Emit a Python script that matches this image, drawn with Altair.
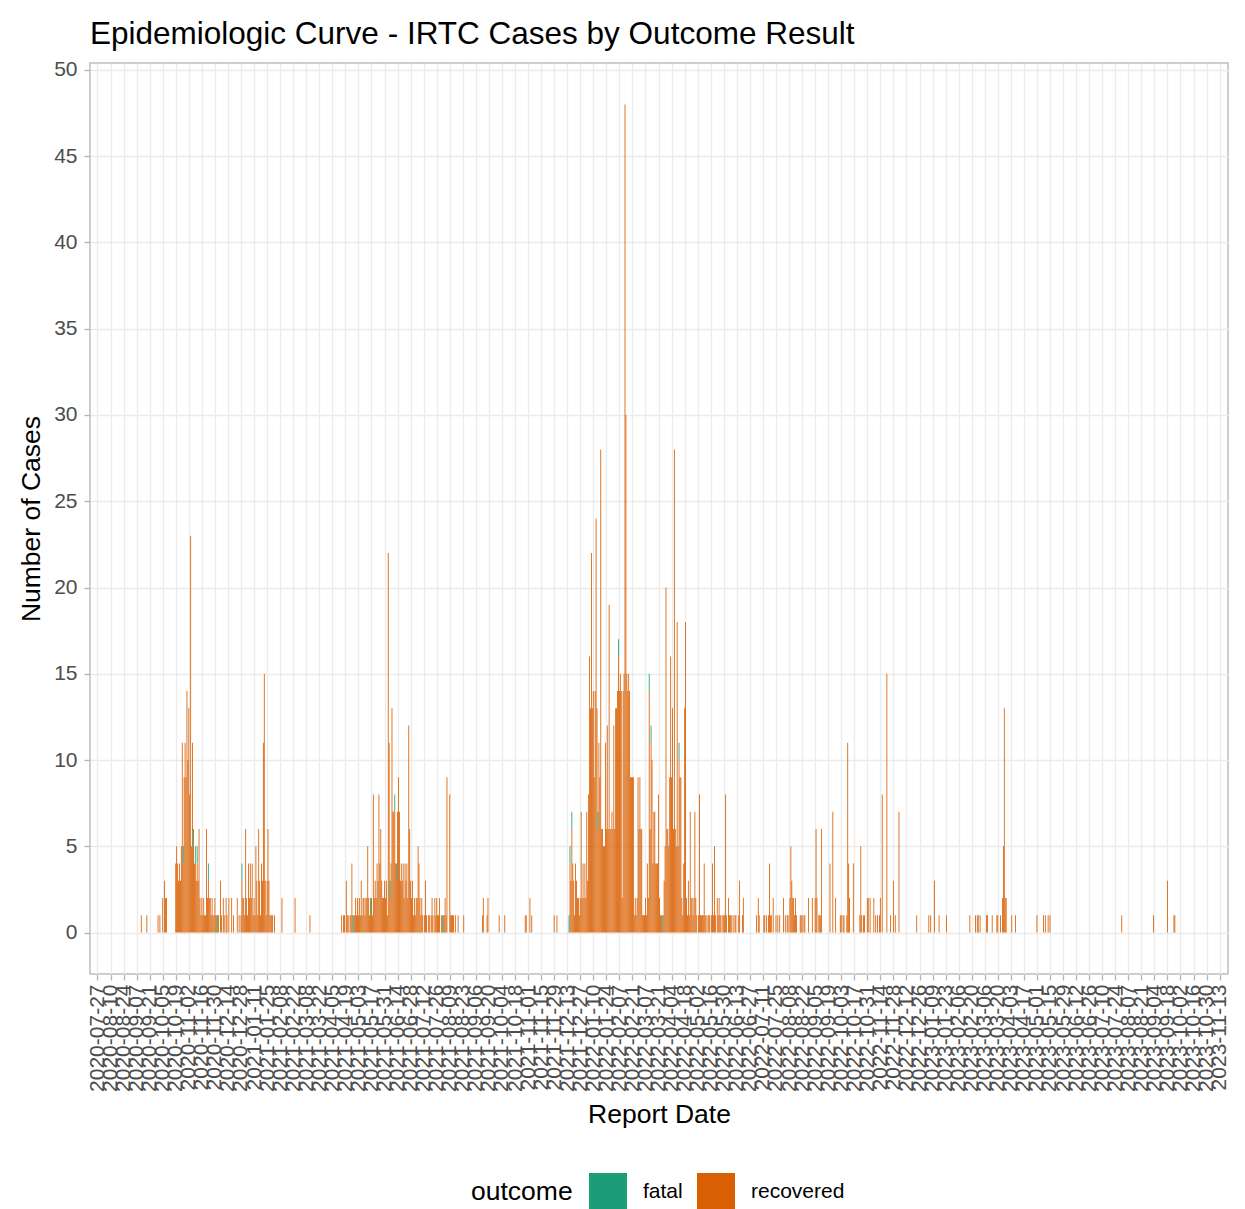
import json
import altair as alt
import pandas as pd

# ---------------- data ----------------
# day offsets are days since 2020-07-27 (the first tick on the x axis)
ORIGIN = "2020-07-27"

# consecutive daily counts of "recovered" cases, each run starts at the given day offset
RUN_A1_START = 47
RUN_A1 = [1, 0, 0, 0, 0, 0, 1]
RUN_A2_START = 65
RUN_A2 = [1, 0, 1, 0, 0, 2, 0, 3, 2, 2]
RUN_A3_START = 84
RUN_A3 = [4, 5, 4, 3, 4, 3, 5, 11, 4, 9,
          11, 9, 14, 10, 13, 8, 23, 5, 11, 5,
          4, 4, 3, 4, 3, 6, 2, 1, 2, 1,
          2, 1, 1, 6, 2, 3, 2, 2, 1, 2,
          1, 1, 2, 1, 1, 0, 1]
RUN_A4_START = 131
RUN_A4 = [0, 3, 1, 0, 2, 1, 0, 2, 1, 0,
          2, 0, 0, 2, 0, 1, 0, 0, 0, 2,
          0, 1, 0, 1, 3, 2, 2, 1, 6, 2,
          1, 4, 2, 4, 2, 4, 1, 2, 1, 5,
          3, 1, 6, 3, 1, 4, 3, 11, 15, 3,
          1, 3, 6, 3, 1, 1, 1, 1, 0, 1]
RUN_B_START = 262
RUN_B = [1, 0, 1, 1, 0, 3, 1, 1, 0, 1,
         1, 4, 0, 1, 1, 2, 1, 2, 1, 2,
         1, 3, 1, 2, 2, 1, 2, 2, 5, 2,
         1, 2, 1, 1, 8, 2, 3, 2, 4, 3,
         8, 4, 6, 3, 2, 2, 3, 2, 3, 1,
         22, 11, 2, 4, 13, 7, 7, 7, 4, 3,
         7, 9, 7, 3, 4, 3, 4, 2, 4, 3,
         4, 2, 12, 6, 3, 2, 3, 1, 2, 1,
         2, 2, 5, 4, 2, 1, 2, 1, 0, 1,
         3, 1, 0, 1, 1, 0, 1, 2, 1, 0,
         2, 1, 2, 1, 1, 2, 0, 1, 1, 0,
         1, 2, 1, 9, 0, 0, 8, 1, 1, 1,
         1, 0, 1, 0, 0, 1, 0, 0, 0, 0,
         0, 1]
RUN_C_START = 505
RUN_C = [0, 0, 4, 3, 6, 4, 3, 1, 4, 3,
         2, 2, 1, 2, 7, 2, 4, 2, 4, 2,
         7, 3, 8, 16, 13, 22, 13, 14, 9, 14,
         24, 13, 6, 11, 9, 28, 6, 6, 5, 5,
         11, 6, 12, 6, 19, 6, 6, 7, 6, 12,
         6, 13, 13, 14, 16, 14, 15, 14, 2, 14,
         15, 48, 30, 15, 14, 15, 14, 9, 9, 9,
         9, 1, 2, 1, 2, 9, 6, 9, 6, 6,
         1, 1, 1, 2, 1, 4, 2, 14, 6, 11,
         10, 4, 7, 7, 4, 4, 4, 8, 2, 1,
         1, 0, 1, 3, 5, 20, 6, 6, 5, 9,
         16, 9, 13, 6, 28, 6, 5, 18, 5, 10,
         9, 9, 2, 1, 4, 13, 18, 2, 1, 3,
         1, 7, 2, 2, 1, 2, 7, 2, 1, 0,
         1, 8, 1, 1, 1, 1, 4, 1, 1, 0,
         1, 1, 1, 0, 1, 4, 1, 5, 1, 0,
         2, 1, 2, 1, 1, 0, 1, 1, 1, 8,
         1, 0, 2, 1, 1, 1, 0, 1, 0, 1,
         1, 0, 0, 1, 3, 0, 0, 1, 2]

# isolated "recovered" days
MID_DAYS = [198, 212, 228, 413, 414, 418, 419, 431, 437, 459, 460, 464, 466, 490, 493]
MID_COUNTS = [2, 2, 1, 1, 2, 1, 2, 1, 1, 1, 1, 2, 1, 1, 1]

TAIL_DAYS = [707, 709, 710, 715, 716, 718, 720, 721, 722, 723,
             725, 728, 730, 732, 736, 738, 740, 741, 743, 744,
             745, 746, 747, 748, 749, 750, 754, 755, 756, 758,
             759, 763, 767, 770, 771, 772, 774, 775, 776, 777,
             786, 789, 792, 797, 798, 800, 801, 804, 805, 806,
             807, 811, 818, 819, 820, 822, 823, 826, 827, 829,
             833, 835, 837, 839, 840, 842, 847, 851, 854, 856,
             860, 879, 892, 894, 898, 903, 911, 936, 942, 944,
             945, 947, 954, 955, 960, 965, 966, 969, 971, 972,
             973, 974, 975, 981, 985, 1008, 1015, 1017, 1020, 1022,
             1099, 1133, 1148, 1155, 1156]
TAIL_COUNTS = [1, 2, 1, 1, 1, 1, 1, 4, 1, 1,
               2, 1, 1, 1, 2, 1, 1, 1, 2, 5,
               3, 2, 2, 1, 2, 1, 1, 1, 1, 1,
               1, 2, 2, 2, 6, 2, 1, 1, 1, 6,
               4, 7, 2, 1, 1, 1, 1, 1, 11, 4,
               2, 4, 1, 5, 1, 1, 1, 2, 2, 2,
               2, 1, 1, 1, 2, 8, 15, 1, 3, 1,
               7, 1, 1, 1, 3, 1, 1, 1, 1, 1,
               1, 1, 1, 1, 1, 1, 1, 1, 2, 5,
               13, 2, 2, 1, 1, 1, 1, 1, 1, 1,
               1, 1, 3, 1, 1]

# "fatal" cases (stacked on top of the recovered count of the same day)
FATAL_DAYS = [92, 103, 105, 107, 119, 129, 155, 274, 294, 314, 319, 321, 371,
              506, 507, 509, 537, 559, 592, 594, 606, 624]
FATAL_COUNTS = [1] * len(FATAL_DAYS)

OUTCOMES = ["fatal", "recovered"]
COLORS = ["#1B9E77", "#D95F02"]

TICK_LABELS = [d.strftime("%Y-%m-%d")
               for d in pd.date_range("2020-07-27", "2023-11-13", freq="14D")]
TICK_VALUES = [14 * i for i in range(len(TICK_LABELS))]
Y_TICKS = list(range(0, 51, 5))

# ---------------- build table ----------------
recovered = {}
for start, vals in [(RUN_A1_START, RUN_A1), (RUN_A2_START, RUN_A2), (RUN_A3_START, RUN_A3),
                    (RUN_A4_START, RUN_A4), (RUN_B_START, RUN_B), (RUN_C_START, RUN_C)]:
    for i, v in enumerate(vals):
        if v:
            recovered[start + i] = recovered.get(start + i, 0) + v
for d, v in list(zip(MID_DAYS, MID_COUNTS)) + list(zip(TAIL_DAYS, TAIL_COUNTS)):
    recovered[d] = recovered.get(d, 0) + v

rows = []
for d, v in recovered.items():
    rows.append({"day": d, "x0": d - 0.45, "x1": d + 0.45, "y0": 0, "y1": v, "outcome": "recovered"})
for d, v in zip(FATAL_DAYS, FATAL_COUNTS):
    base = recovered.get(d, 0)
    rows.append({"day": d, "x0": d - 0.45, "x1": d + 0.45, "y0": base, "y1": base + v, "outcome": "fatal"})
df = pd.DataFrame(rows)

FONT = "Liberation Sans"
label_expr = json.dumps(TICK_LABELS) + "[round(datum.value / 14)]"

chart = alt.Chart(df).mark_bar().encode(
    x=alt.X("x0:Q",
            scale=alt.Scale(domain=[-8, 1213], nice=False, zero=False),
            axis=alt.Axis(values=TICK_VALUES, labelExpr=label_expr, labelAngle=270,
                          labelOverlap=False, labelFlush=False, labelBound=False,
                          labelFontSize=21, labelColor="#4D4D4D", labelFont=FONT,
                          labelPadding=4, title="Report Date", titleFontSize=26.5,
                          titleFont=FONT, titleFontWeight="normal", titleColor="#000000",
                          titlePadding=10)),
    x2="x1:Q",
    y=alt.Y("y0:Q",
            scale=alt.Scale(domain=[-2.4, 50.4], nice=False, zero=False),
            axis=alt.Axis(values=Y_TICKS, labelFontSize=21, labelColor="#4D4D4D",
                          labelFont=FONT, labelPadding=7, title="Number of Cases",
                          titleFontSize=26.5, titleFont=FONT, titleFontWeight="normal",
                          titleColor="#000000", titlePadding=8)),
    y2="y1:Q",
    color=alt.Color("outcome:N",
                    scale=alt.Scale(domain=OUTCOMES, range=COLORS),
                    legend=alt.Legend(orient="none", legendX=381, legendY=1110,
                                      direction="horizontal", title="outcome",
                                      titleOrient="left", titleAnchor="middle",
                                      titleBaseline="middle",
                                      titleFontSize=26.5, titleFont=FONT,
                                      titleFontWeight="normal", titleColor="#000000",
                                      titlePadding=16, symbolType="square",
                                      symbolSize=1444, symbolStrokeWidth=0,
                                      symbolOpacity=1, labelFontSize=21, labelFont=FONT,
                                      labelColor="#000000", labelOffset=16,
                                      columnPadding=14)),
).properties(
    width=1138,
    height=911,
    autosize=alt.AutoSizeParams(type="none"),
    padding={"left": 82, "top": 55, "right": 9, "bottom": 245},
    title=alt.TitleParams("Epidemiologic Curve - IRTC Cases by Outcome Result",
                          anchor="start", frame="group", fontSize=31.5, font=FONT,
                          fontWeight="normal", color="#000000", baseline="alphabetic",
                          offset=19, dy=36),
).configure_view(
    stroke="#BDBDBD", strokeWidth=1.5
).configure_axis(
    domain=False, gridColor="#EBEBEB", gridWidth=1.3,
    tickColor="#B3B3B3", tickSize=6, tickWidth=1.3
)

chart.save("out.html", embed_options={"renderer": "svg", "actions": False})
